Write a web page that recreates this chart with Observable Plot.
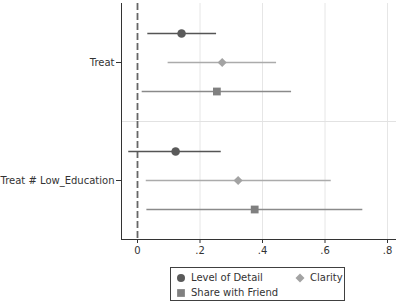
<!DOCTYPE html>
<html><head><meta charset="utf-8">
<script src="https://cdn.jsdelivr.net/npm/d3@7"></script>
<script src="https://cdn.jsdelivr.net/npm/@observablehq/plot@0.6"></script>
<style>
body{margin:0;background:#fff;font-family:"DejaVu Sans",sans-serif;width:396px;height:304px;position:relative;overflow:hidden;}
#chart svg{display:block;}
#legend{position:absolute;left:170px;top:267px;width:175px;height:34px;border:1px solid #404040;box-sizing:border-box;font-size:10px;color:#333;}
.item{position:absolute;height:12px;line-height:12px;white-space:nowrap;}
.item svg{position:absolute;left:-15px;top:1px;}
</style></head><body>
<div id="chart"></div>
<div id="legend"></div>
<script>
const groups = ["Treat", "Treat # Low_Education"];
const series = ["Level of Detail", "Clarity", "Share with Friend"];
// point estimates and confidence bounds, per group (rows) and series (columns)
const estimates = [[0.141, 0.271, 0.254], [0.122, 0.322, 0.375]];
const lower = [[0.033, 0.098, 0.015], [-0.028, 0.028, 0.030]];
const upper = [[0.253, 0.445, 0.493], [0.268, 0.620, 0.721]];
const xTicks = [0, 0.2, 0.4, 0.6, 0.8];
const xTickLabels = ["0", ".2", ".4", ".6", ".8"];

const rows = [];
groups.forEach((g, gi) => series.forEach((s, si) => rows.push({
  group: g, series: s, est: estimates[gi][si], lo: lower[gi][si], hi: upper[gi][si]
})));

const lineColors = ["#555555", "#ababab", "#8a8a8a"];
const fillColors = ["#5a5a5a", "#a3a3a3", "#808080"];
const symbols = ["circle", "diamond2", "square"];
const radii = [4.3, 4.1, 4.4];

const marks = [
  Plot.gridX(xTicks.filter(d => d !== 0), {stroke: "#e6e6e6", strokeOpacity: 1}),
  Plot.frame({anchor: "bottom", stroke: "#e2e2e2"}),
  Plot.ruleX([0], {stroke: "#666", strokeDasharray: "7,3", strokeWidth: 1.8}),
  Plot.frame({anchor: "left", stroke: "#333"}),
  Plot.frame({anchor: "bottom", stroke: "#333", fy: groups[groups.length - 1]}),
  Plot.axisX({ticks: xTicks, tickFormat: d => xTickLabels[xTicks.indexOf(d)], tickSize: 4, tickPadding: 3, label: null, stroke: "#333", color: "#333"}),
  Plot.axisFy({anchor: "left", label: null, tickSize: 5, tickPadding: 2, color: "#333"})
];
series.forEach((s, si) => {
  const d = rows.filter(r => r.series === s);
  marks.push(Plot.ruleY(d, {fy: "group", y: "series", x1: "lo", x2: "hi", stroke: lineColors[si], strokeWidth: 1.3}));
});
series.forEach((s, si) => {
  const d = rows.filter(r => r.series === s);
  marks.push(Plot.dot(d, {fy: "group", y: "series", x: "est", symbol: symbols[si], fill: fillColors[si], stroke: "none", r: radii[si]}));
});

const plot = Plot.plot({
  width: 396, height: 262,
  marginLeft: 121, marginRight: 1, marginTop: 2, marginBottom: 23,
  style: {fontFamily: "DejaVu Sans", fontSize: "10px", color: "#333", background: "#fff"},
  x: {domain: [-0.0512, 0.8256]},
  y: {type: "point", domain: series, padding: 1, axis: null},
  fy: {domain: groups, padding: 0},
  marks
});
document.getElementById("chart").appendChild(plot);

// legend
const legend = d3.select("#legend");
const pos = [{x: 20, y: 4}, {x: 139, y: 4}, {x: 20, y: 19}];
series.forEach((s, si) => {
  const it = legend.append("div").attr("class", "item").style("left", pos[si].x + "px").style("top", pos[si].y + "px");
  const sv = it.append("svg").attr("width", 10).attr("height", 10);
  sv.append("path").attr("transform", "translate(5,5)")
    .attr("d", d3.symbol(si === 0 ? d3.symbolCircle : si === 1 ? d3.symbolDiamond2 : d3.symbolSquare, si === 0 ? Math.PI * 16 : si === 1 ? 52 : 60)())
    .attr("fill", fillColors[si]);
  it.append("span").text(s);
});
</script>
</body></html>
